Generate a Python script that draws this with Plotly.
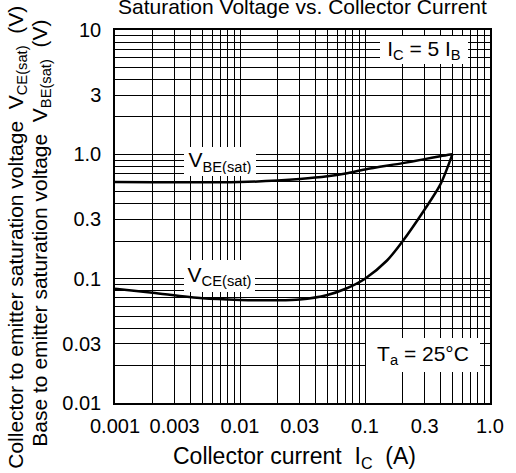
import plotly.graph_objects as go

# Collector current (A) sample points and saturation voltages (V), IC = 5 IB, Ta = 25 °C
ic_be = [0.001, 0.002, 0.005, 0.01, 0.02, 0.03, 0.05, 0.07, 0.1, 0.2, 0.3, 0.4, 0.5]
vbe_sat = [0.60, 0.597, 0.595, 0.598, 0.615, 0.632, 0.665, 0.70, 0.755, 0.85, 0.915, 0.965, 1.0]

ic_ce = [0.001, 0.002, 0.005, 0.01, 0.02, 0.03, 0.05, 0.07, 0.1, 0.15, 0.2, 0.3, 0.4, 0.5]
vce_sat = [0.083, 0.077, 0.0695, 0.0675, 0.067, 0.068, 0.074, 0.083, 0.1, 0.14, 0.2, 0.36, 0.57, 1.0]

# Labelled ticks
x_tick_vals = [0.001, 0.003, 0.01, 0.03, 0.1, 0.3, 1.0]
x_tick_text = ["0.001", "0.003", "0.01", "0.03", "0.1", "0.3", "1.0"]
y_tick_vals = [0.01, 0.03, 0.1, 0.3, 1.0, 3, 10]
y_tick_text = ["0.01", "0.03", "0.1", "0.3", "1.0", "3", "10"]

FONT = "Liberation Sans, Arial, sans-serif"


def log_grid(first_decade, n_decades):
    """All 1..9 multiples over the decades, for the full log grid."""
    vals = []
    for d in range(n_decades):
        for m in range(1, 10):
            vals.append(round(m * first_decade * 10 ** d, 10))
    vals.append(round(first_decade * 10 ** n_decades, 10))
    return vals


def labels_for(vals, label_vals, label_text):
    out = []
    for v in vals:
        txt = ""
        for lv, lt in zip(label_vals, label_text):
            if abs(v - lv) / lv < 1e-6:
                txt = lt
        out.append(txt)
    return out


xgrid = log_grid(0.001, 3)
ygrid = log_grid(0.01, 3)

fig = go.Figure()
fig.add_trace(go.Scatter(x=ic_be, y=vbe_sat, mode="lines",
                         line=dict(color="black", width=2.5, shape="spline", smoothing=0.8),
                         showlegend=False, hoverinfo="skip"))
fig.add_trace(go.Scatter(x=ic_ce, y=vce_sat, mode="lines",
                         line=dict(color="black", width=2.5, shape="spline", smoothing=0.8),
                         showlegend=False, hoverinfo="skip"))

axis_common = dict(
    type="log", showgrid=True, gridcolor="black", gridwidth=1,
    showline=True, linecolor="black", linewidth=1.5, mirror=True,
    ticks="", zeroline=False,
    tickfont=dict(family=FONT, size=20, color="black"),
)

fig.update_xaxes(range=[-3, 0], tickmode="array", tickvals=xgrid,
                 ticktext=labels_for(xgrid, x_tick_vals, x_tick_text),
                 ticklabelstandoff=4, **axis_common)
fig.update_yaxes(range=[-2, 1], tickmode="array", tickvals=ygrid,
                 ticktext=labels_for(ygrid, y_tick_vals, y_tick_text),
                 ticklabelstandoff=8, **axis_common)

boxed = dict(bgcolor="white", showarrow=False, borderpad=2, borderwidth=0,
             xanchor="center", yanchor="middle",
             font=dict(family=FONT, size=21, color="black"))

fig.add_annotation(x=-2.164, y=-0.054, xref="x", yref="y",
                   text="V<sub>BE(sat)</sub>", width=68, height=25, **boxed)
fig.add_annotation(x=-2.164, y=-0.975, xref="x", yref="y",
                   text="V<sub>CE(sat)</sub>", width=67, height=28, **boxed)
fig.add_annotation(x=-0.531, y=0.839, xref="x", yref="y",
                   text="I<sub>C</sub> = 5 I<sub>B</sub>", width=84, height=24, **boxed)
fig.add_annotation(x=-0.54, y=-1.615, xref="x", yref="y",
                   text="T<sub>a</sub> = 25°C", width=110, height=30, **boxed)

plain = dict(showarrow=False, xanchor="center", yanchor="middle",
             font=dict(family=FONT, size=21, color="black"))

fig.add_annotation(x=0.5, y=1.062, xref="paper", yref="paper",
                   text="Saturation Voltage vs. Collector Current", **plain)
fig.add_annotation(x=0.478, y=-0.145, xref="paper", yref="paper",
                   text="Collector current&nbsp; I<sub>C</sub>&nbsp; (A)",
                   showarrow=False, xanchor="center", yanchor="middle",
                   font=dict(family=FONT, size=23, color="black"))
fig.add_annotation(x=-0.262, y=0.445, xref="paper", yref="paper", textangle=-90,
                   text="Collector to emitter saturation voltage&nbsp; V<sub>CE(sat)</sub>&nbsp; (V)",
                   **plain)
fig.add_annotation(x=-0.198, y=0.456, xref="paper", yref="paper", textangle=-90,
                   text="Base to emitter saturation voltage&nbsp; V<sub>BE(sat)</sub>&nbsp; (V)",
                   **plain)

fig.update_layout(
    width=516, height=473,
    margin=dict(l=115, r=17, t=30, b=70),
    paper_bgcolor="white", plot_bgcolor="white",
    font=dict(family=FONT, size=21, color="black"),
)

fig.write_html("out.html")
